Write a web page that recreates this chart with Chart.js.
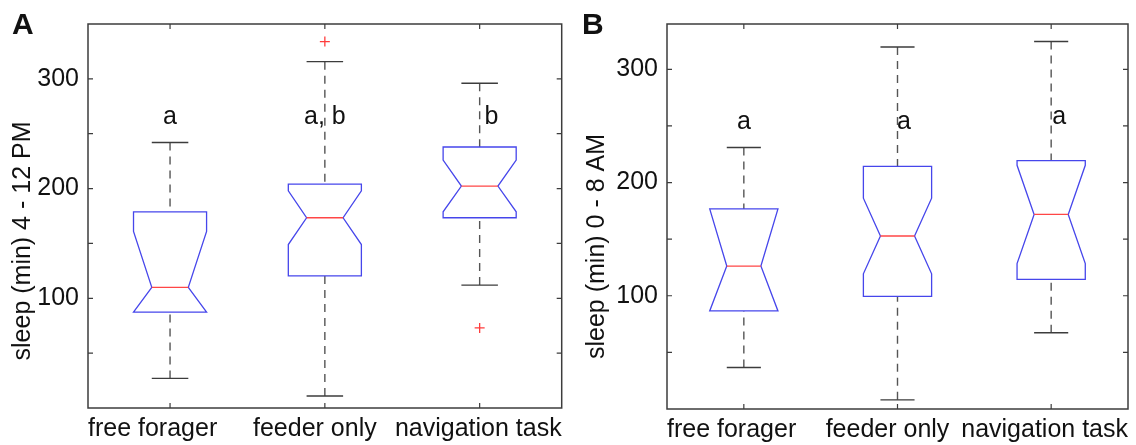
<!DOCTYPE html>
<html>
<head>
<meta charset="utf-8">
<script src="https://cdn.jsdelivr.net/npm/chart.js@4.4.1/dist/chart.umd.min.js"></script>
<style>
  html, body { margin: 0; padding: 0; background: #fff; }
  #wrapA { position: absolute; left: 0; top: 0; width: 568px; height: 445px; }
  #wrapB { position: absolute; left: 576px; top: 0; width: 560px; height: 445px; }
</style>
</head>
<body>
<div id="wrapA"><canvas id="chartA" width="568" height="445"></canvas></div>
<div id="wrapB"><canvas id="chartB" width="560" height="445"></canvas></div>
<script>
const groupes = ['free forager', 'feeder only', 'navigation task'];

// Panneau A : sommeil 4 - 12 PM
const basA = [27, 11, 112];
const q1A = [87.3, 120.4, 173.4];
const medianeA = [110, 173.4, 202.3];
const q3A = [178.8, 204, 237.9];
const hautA = [242, 315.7, 296];
const encocheBasA = [59, 149, 178.8];
const encocheHautA = [161, 198, 226];
const aberrantsA = [{ x: 2, y: 334 }, { x: 3, y: 73 }];
const lettresA = ['a', 'a, b', 'b'];
const lettresXA = [1, 2, 3.077];
const lettresYA = [259, 259, 259];

// Panneau B : sommeil 0 - 8 AM
const basB = [36.6, 8.1, 67.4];
const q1B = [86.6, 99.4, 114.5];
const medianeB = [126.2, 152.8, 171.8];
const q3B = [176.7, 214.2, 219.4];
const hautB = [231, 319.7, 324.6];
const encocheBasB = [68, 119.4, 128.4];
const encocheHautB = [184, 186.2, 215.2];
const aberrantsB = [];
const lettresB = ['a', 'a', 'a'];
const lettresXB = [1, 2.042, 3.052];
const lettresYB = [247, 247.6, 251.4];

const police = '"Liberation Sans", Arial, sans-serif';
const couleurTexte = '#111';

// Plugin qui dessine les boîtes à encoche, le cadre et les annotations
function creerPluginBoites(p) {
    return {
        id: 'boites' + p.panneau,
        beforeDatasetsDraw(chart) {
            const ctx = chart.ctx;
            const x = chart.scales.x;
            const y = chart.scales.y;
            const parUnite = x.getPixelForValue(2) - x.getPixelForValue(1);
            const demi = parUnite * p.demiLargeur;

            ctx.save();
            for (let i = 0; i < groupes.length; i++) {
                const cx = x.getPixelForValue(i + 1);
                const yQ1 = y.getPixelForValue(p.q1[i]);
                const yQ3 = y.getPixelForValue(p.q3[i]);
                const yMed = y.getPixelForValue(p.mediane[i]);
                const yBas = y.getPixelForValue(p.bas[i]);
                const yHaut = y.getPixelForValue(p.haut[i]);
                // l'encoche ne dépasse pas les quartiles
                const yEncBas = y.getPixelForValue(Math.max(p.encocheBas[i], p.q1[i]));
                const yEncHaut = y.getPixelForValue(Math.min(p.encocheHaut[i], p.q3[i]));

                // moustaches en pointillés
                ctx.strokeStyle = 'rgb(85,85,85)';
                ctx.lineWidth = 1.4;
                ctx.setLineDash([8, 6]);
                ctx.beginPath();
                ctx.moveTo(cx, yHaut);
                ctx.lineTo(cx, yQ3);
                ctx.moveTo(cx, yBas);
                ctx.lineTo(cx, yQ1);
                ctx.stroke();

                // extrémités des moustaches
                ctx.setLineDash([]);
                ctx.strokeStyle = 'rgb(60,60,60)';
                ctx.beginPath();
                ctx.moveTo(cx - demi / 2, yHaut);
                ctx.lineTo(cx + demi / 2, yHaut);
                ctx.moveTo(cx - demi / 2, yBas);
                ctx.lineTo(cx + demi / 2, yBas);
                ctx.stroke();

                // boîte avec encoche
                ctx.strokeStyle = 'rgb(70,70,235)';
                ctx.lineWidth = 1.3;
                ctx.beginPath();
                ctx.moveTo(cx - demi, yQ3);
                ctx.lineTo(cx - demi, yEncHaut);
                ctx.lineTo(cx - demi / 2, yMed);
                ctx.lineTo(cx - demi, yEncBas);
                ctx.lineTo(cx - demi, yQ1);
                ctx.lineTo(cx + demi, yQ1);
                ctx.lineTo(cx + demi, yEncBas);
                ctx.lineTo(cx + demi / 2, yMed);
                ctx.lineTo(cx + demi, yEncHaut);
                ctx.lineTo(cx + demi, yQ3);
                ctx.closePath();
                ctx.stroke();

                // médiane
                ctx.strokeStyle = 'rgb(255,70,70)';
                ctx.beginPath();
                ctx.moveTo(cx - demi / 2, yMed);
                ctx.lineTo(cx + demi / 2, yMed);
                ctx.stroke();
            }
            ctx.restore();
        },
        afterDraw(chart) {
            const ctx = chart.ctx;
            const area = chart.chartArea;
            const x = chart.scales.x;
            const y = chart.scales.y;

            ctx.save();
            // cadre complet
            ctx.strokeStyle = 'rgb(60,60,60)';
            ctx.lineWidth = 1.5;
            ctx.strokeRect(area.left, area.top, area.right - area.left, area.bottom - area.top);

            // graduations vers l'intérieur
            ctx.lineWidth = 1.2;
            ctx.beginPath();
            for (let v = 50; v < y.max; v += 50) {
                const py = y.getPixelForValue(v);
                ctx.moveTo(area.left, py);
                ctx.lineTo(area.left + 5, py);
                ctx.moveTo(area.right, py);
                ctx.lineTo(area.right - 5, py);
            }
            for (let i = 0; i < groupes.length; i++) {
                const px = x.getPixelForValue(i + 1);
                ctx.moveTo(px, area.bottom);
                ctx.lineTo(px, area.bottom - 5);
                ctx.moveTo(px, area.top);
                ctx.lineTo(px, area.top + 5);
            }
            ctx.stroke();

            // étiquettes des groupes (alignées sur les bords du cadre aux extrémités)
            ctx.fillStyle = couleurTexte;
            ctx.font = '25px ' + police;
            ctx.textBaseline = 'alphabetic';
            const yLabel = area.bottom + 28;
            ctx.textAlign = 'left';
            ctx.fillText(groupes[0], area.left, yLabel);
            ctx.textAlign = 'center';
            ctx.fillText(groupes[1], x.getPixelForValue(2) - 10, yLabel);
            ctx.textAlign = 'right';
            ctx.fillText(groupes[2], area.right, yLabel);

            // lettres de significativité
            ctx.textAlign = 'center';
            for (let i = 0; i < p.lettres.length; i++) {
                ctx.fillText(p.lettres[i], x.getPixelForValue(p.lettresX[i]), y.getPixelForValue(p.lettresY[i]));
            }

            // titre de l'axe y, un peu plus bas que le centre comme sur la figure
            ctx.save();
            ctx.translate(p.titreX, (area.top + area.bottom) / 2 + p.titreDecalage);
            ctx.rotate(-Math.PI / 2);
            ctx.textAlign = 'center';
            ctx.textBaseline = 'middle';
            ctx.fillText(p.titre, 0, 0);
            ctx.restore();

            // lettre du panneau
            ctx.font = 'bold 30px ' + police;
            ctx.textAlign = 'left';
            ctx.fillText(p.panneau, p.panneauX, 34);
            ctx.restore();
        }
    };
}

function creerGraphique(idCanvas, p) {
    const canvas = document.getElementById(idCanvas);

    return new Chart(canvas, {
        type: 'scatter',
        data: {
            datasets: [{
                label: 'valeurs aberrantes',
                data: p.aberrants,
                pointStyle: 'cross',
                pointRadius: 5,
                borderColor: 'rgb(255,60,60)',
                borderWidth: 1.3
            }]
        },
        options: {
            responsive: false,
            animation: false,
            layout: {
                padding: { top: 19, right: p.margeDroite, left: 0, bottom: 0 }
            },
            plugins: {
                legend: { display: false },
                tooltip: { enabled: false }
            },
            scales: {
                x: {
                    type: 'linear',
                    min: p.xMin,
                    max: p.xMax,
                    grid: { display: false, drawTicks: false },
                    border: { display: false },
                    ticks: { display: false },
                    afterFit: function (scale) { scale.height = p.hauteurX; }
                },
                y: {
                    min: 0,
                    max: p.yMax,
                    grid: { display: false, drawTicks: false },
                    border: { display: false },
                    ticks: {
                        stepSize: 50,
                        padding: 9,
                        color: couleurTexte,
                        font: { family: police, size: 25 },
                        callback: function (v) { return (v > 0 && v % 100 === 0) ? v : ''; }
                    },
                    afterFit: function (scale) { scale.width = p.largeurY; }
                }
            }
        },
        plugins: [creerPluginBoites(p)]
    });
}

creerGraphique('chartA', {
    panneau: 'A', panneauX: 12, titre: 'sleep (min) 4 - 12 PM', titreX: 23, titreDecalage: 25,
    bas: basA, q1: q1A, mediane: medianeA, q3: q3A, haut: hautA,
    encocheBas: encocheBasA, encocheHaut: encocheHautA, aberrants: aberrantsA,
    lettres: lettresA, lettresX: lettresXA, lettresY: lettresYA,
    xMin: 0.47, xMax: 3.53, yMax: 350, demiLargeur: 0.236,
    largeurY: 88, hauteurX: 37, margeDroite: 5
});

creerGraphique('chartB', {
    panneau: 'B', panneauX: 6, titre: 'sleep (min) 0 - 8 AM', titreX: 21, titreDecalage: 30,
    bas: basB, q1: q1B, mediane: medianeB, q3: q3B, haut: hautB,
    encocheBas: encocheBasB, encocheHaut: encocheHautB, aberrants: aberrantsB,
    lettres: lettresB, lettresX: lettresXB, lettresY: lettresYB,
    xMin: 0.5, xMax: 3.5, yMax: 340, demiLargeur: 0.222,
    largeurY: 91, hauteurX: 36, margeDroite: 8
});
</script>
</body>
</html>
